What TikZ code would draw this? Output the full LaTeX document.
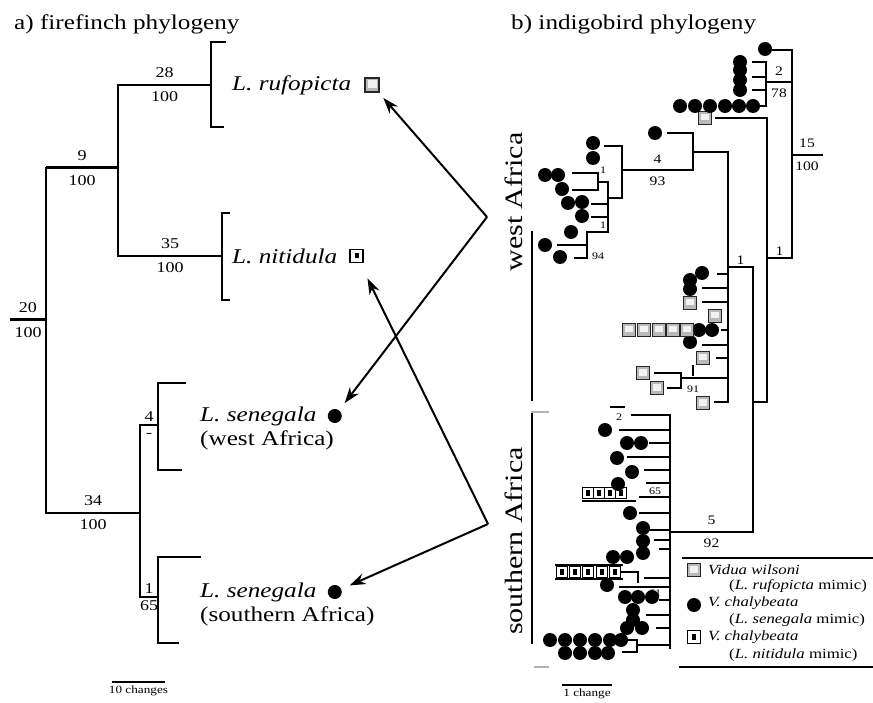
\documentclass[tikz,border=0pt]{standalone}
\usepackage{fontspec}
\setmainfont{Liberation Serif}[FakeStretch=1.2]
\usetikzlibrary{arrows.meta,positioning}

\begin{document}
\begin{tikzpicture}[x=1pt,y=-1pt,
  branch/.style={line width=2pt,line cap=rect},
  stem/.style={line width=3pt},
  rb/.style={line width=1.8pt,line cap=rect},
  title/.style={font=\fontsize{21}{24}\selectfont,anchor=west,inner sep=0pt},
  taxon/.style={font=\fontsize{21}{24}\selectfont,anchor=west,inner sep=0pt},
  region/.style={font=\fontsize{25}{28}\selectfont,inner sep=0pt,rotate=90},
  supp/.style={font=\fontsize{15}{15}\selectfont,inner sep=6pt},
  rsupp/.style={font=\fontsize{13}{13}\selectfont,inner sep=6pt},
  tiny/.style={font=\fontsize{10}{10}\selectfont,inner sep=1pt},
  keytext/.style={font=\fontsize{14}{15}\selectfont,anchor=west,inner sep=0pt},
  scaletext/.style={font=\fontsize{11}{12}\selectfont,inner sep=3pt},
  dot/.style={circle,fill=black,minimum size=14pt,inner sep=0pt},
  wsq/.style={rectangle,draw=black!85,fill=gray!55,line width=1.3pt,minimum size=13pt,inner sep=0pt,
    path picture={\fill[gray!10] ([shift={(2.5pt,-2.5pt)}]path picture bounding box.north west)
      rectangle ([shift={(-2.5pt,4pt)}]path picture bounding box.south east);}},
  nsq/.style={rectangle,draw=black,fill=white,line width=1.2pt,minimum size=11pt,inner sep=0pt,
    path picture={\fill[black] ([shift={(-2pt,-2.5pt)}]path picture bounding box.center)
      rectangle ([shift={(2pt,3pt)}]path picture bounding box.center);}},
  link/.style={-{Stealth[length=16pt,width=11pt]},line width=2pt}]

\useasboundingbox (0,0) rectangle (873,703);

% a) firefinch tree
\node[title] (titleA) at (14,24) {a) firefinch phylogeny};
\coordinate (rootStub) at (10,320);
\coordinate (root) at (46,320);
\coordinate (nUp) at (118,168);
\coordinate (nSen) at (140,513);
\coordinate (bRuf) at (211,85);
\coordinate (bNit) at (222,256);
\coordinate (bWest) at (158,425);
\coordinate (bSouth) at (158,597);

\draw[stem] (rootStub) -- node[supp,above]{20} node[supp,below]{100} (root);
\draw[branch] (root |- nUp) -- (root |- nSen);
\draw[stem] (root |- nUp) -- node[supp,above]{9} node[supp,below]{100} (nUp);
\draw[branch] (root |- nSen) -- node[supp,above]{34} node[supp,below]{100} (nSen);
\draw[branch] (nUp |- bRuf) -- (nUp |- bNit);
\draw[branch] (nUp |- bRuf) -- node[supp,above]{28} node[supp,below]{100} (bRuf);
\draw[branch] (nUp |- bNit) -- node[supp,above]{35} node[supp,below]{100} (bNit);
\draw[branch] (nSen |- bWest) -- (nSen |- bSouth);
\draw[branch] (nSen |- bWest) -- node[supp,above,inner sep=3pt]{4} node[supp,below,inner sep=7pt]{-} (bWest);
\draw[branch] (nSen |- bSouth) -- node[supp,above,inner sep=3pt]{1} node[supp,below,inner sep=3pt]{65} (bSouth);

% brackets
\draw[branch] ([shift={(14,-43)}]bRuf) -| ([shift={(0,42)}]bRuf) -- ++(12,0);
\draw[branch] ([shift={(7,-43)}]bNit) -| ([shift={(0,44)}]bNit) -- ++(7,0);
\draw[branch] ([shift={(27,-42)}]bWest) -| ([shift={(0,45)}]bWest) -- ++(23,0);
\draw[branch] ([shift={(42,-40)}]bSouth) -| ([shift={(0,46)}]bSouth) -- ++(20,0);

\node[taxon] (tRuf) at ([xshift=21pt]bRuf) {\textit{L. rufopicta}};
\node[wsq,minimum size=14pt,right=13pt of tRuf] (iRuf) {};
\node[taxon] (tNit) at ([xshift=10pt]bNit) {\textit{L. nitidula}};
\node[nsq,minimum size=13pt,right=12pt of tNit] (iNit) {};
\node[taxon] (tWest) at ([shift={(42,-9)}]bWest) {\textit{L. senegala}};
\node[taxon] (tWestReg) at ([shift={(42,15)}]bWest) {(west Africa)};
\node[dot,right=11pt of tWest] (iWest) {};
\node[taxon] (tSouth) at ([shift={(42,-5)}]bSouth) {\textit{L. senegala}};
\node[taxon] (tSouthReg) at ([shift={(42,19)}]bSouth) {(southern Africa)};
\node[dot,right=11pt of tSouth] (iSouth) {};

% host links
\coordinate (srcWest) at (487,217);
\coordinate (srcSouth) at (488,524);
\draw[link,shorten >=7pt] (srcWest) -- (iRuf);
\draw[link,shorten >=9pt] (srcWest) -- (iWest);
\draw[link,shorten >=17pt] (srcSouth) -- (iNit);
\draw[link,shorten >=9pt] (srcSouth) -- (iSouth);

\coordinate (sbA) at (112,682);
\coordinate (sbB) at (165,682);
\draw[line width=1.6pt] (sbA) -- node[scaletext,below]{10 changes} (sbB);

% b) indigobird tree
\node[title] (titleB) at (511,24) {b) indigobird phylogeny};
\coordinate (rRoot) at (792,155);
\coordinate (rStub) at (822,155);
\coordinate (tTop) at (773,50);
\coordinate (nTop) at (766,82);
\coordinate (tSq) at (716,118);
\coordinate (nB) at (767,258);
\coordinate (nA) at (753,402);
\coordinate (nW) at (728,267);
\coordinate (nW1) at (693,152);
\coordinate (tW1) at (668,133);
\coordinate (nW1a) at (622,170);
\coordinate (nS) at (670,532);

\draw[rb] (rRoot) -- node[rsupp,above]{15} node[rsupp,below]{100} (rStub);
\draw[rb] (tTop) -| (rRoot |- nB);
\draw[rb] (nTop) -- node[rsupp,above]{2} node[rsupp,below]{78} (rRoot |- nTop);
\draw[rb] (rRoot |- nB) -- node[rsupp,above,inner sep=2pt]{1} (nB);
\draw[rb] (tSq) -| (nB |- nA) -- (nA);
\draw[rb] (nA |- nW) -- (nA |- nS);
\draw[rb] (nW) -- node[rsupp,above,inner sep=2pt]{1} (nA |- nW);
\draw[rb] (nS) -- node[rsupp,above]{5} node[rsupp,below]{92} (nA |- nS);
\draw[rb] (nW |- nW1) -- (nW |- 0,402);
\draw[rb] (nW1) -- (nW |- nW1);
\draw[rb] (tW1) -| (nW1 |- nW1a) -- node[rsupp,above]{4} node[rsupp,below]{93} (nW1a);

% top clade
\node[dot] (dTop) at (765,49) {};
\node[wsq] (sqB) at (705,118) {};
\draw[rb] (nTop |- 0,62) -- (nTop |- 0,106);
\foreach \y in {62,77,90} \draw[rb] (753,\y) -- (nTop |- 0,\y);
\draw[rb] (759,106) -- (nTop |- 0,106);
\foreach \y in {62,70,80,90} \node[dot] (top\y) at (740,\y) {};
\foreach \x in {680,695,710,725,739,753} \node[dot] (row\x) at (\x,106) {};

% west Africa, clade 1
\node[dot] (dW1) at (655,133) {};
\draw[rb] (nW1a |- 0,146) -- (nW1a |- 0,198);
\draw[rb] (605,146) -- (nW1a |- 0,146);
\draw[line width=2.6pt] (608,198) -- (nW1a |- 0,198);
\draw[rb] (608,182) -- (608,232);
\draw[rb] (598,173) -- (598,190);
\draw[rb] (598,182) -- (608,182);
\draw[rb] (573,173) -- (598,173);
\draw[rb] (573,190) -- (598,190);
\draw[rb] (592,204) -- (608,204);
\draw[rb] (592,217) -- (608,217);
\draw[rb] (587,232) -- (608,232);
\draw[rb] (587,232) -- (587,258);
\draw[rb] (558,245) -- (587,245);
\draw[rb] (575,258) -- (587,258);
\node[tiny] (sW1a) at (603,170) {1};
\node[tiny] (sW1b) at (603,225) {1};
\node[tiny] (sW1c) at (598,256) {94};
\foreach \x/\y [count=\i] in {593/143,593/158,545/175,558/175,562/189,568/203,582/202,582/216,571/232,545/245,560/257}
  \node[dot] (w\i) at (\x,\y) {};

% west Africa, clade 2
\foreach \y/\x in {274/718,288/703,302/703,330/722,345/703,358/717,378/681,402/715}
  \draw[rb] (\x,\y) -- (nW |- 0,\y);
\draw[rb] (681,373) -- (681,388);
\draw[rb] (655,373) -- (681,373);
\draw[rb] (668,388) -- (681,388);
\draw[rb] (693,366) -- (693,375);
\node[tiny] (sW2) at (693,389) {91};
\foreach \x/\y [count=\i] in {702/273,690/280,690/289,712/330,699/330,690/342}
  \node[dot] (v\i) at (\x,\y) {};
\foreach \x/\y [count=\i] in {690/303,715/316,629/330,644/330,659/330,673/330,687/330,703/358,643/373,657/388,703/403}
  \node[wsq] (q\i) at (\x,\y) {};

% southern Africa clade
\draw[rb] (nS |- 0,415) -- (nS |- 0,648);
\foreach \y/\x in {415/632,430/620,443/650,457/628,470/645,483/647,497/640,513/640,530/650,540/655,549/660,578/645,587/620,600/660,615/647,628/657,645/637}
  \draw[rb] (\x,\y) -- (nS |- 0,\y);
\draw[rb] (611,407) -- (624,407);
\node[tiny] (sS1) at (619,417) {2};
\draw[rb] (583,501) -- (635,501);
\node[tiny] (sS2) at (655,491) {65};
\draw[rb] (556,565) -- (622,565);
\draw[rb] (556,579) -- (622,579);
\draw[rb] (622,572) -- (638,572) -- (638,582);
\node[tiny] (sS3) at (655,593) {61};
\draw[rb] (637,640) -- (637,652);
\draw[rb] (628,640) -- (637,640);
\draw[rb] (623,652) -- (637,652);
\foreach \x [count=\i] in {588,599,610,621} \node[nsq] (m\i) at (\x,493) {};
\foreach \x [count=\i] in {562,575,588,602,615} \node[nsq] (k\i) at (\x,572) {};
\foreach \x/\y [count=\i] in {605/430,627/443,641/443,617/458,632/472,618/484,630/513,643/528,643/541,643/553,613/557,627/557,607/585,625/597,638/597,652/597,633/610,633/620,627/628,642/628,550/640,565/640,580/640,595/640,610/640,621/640,565/653,580/653,595/653,608/653}
  \node[dot] (s\i) at (\x,\y) {};

% region brackets
\draw[rb] (532,232) -- (532,400);
\draw[rb] (532,412) -- (532,643);
\draw[rb,gray!60] (532,412) -- (548,412);
\draw[rb,gray!60] (535,667) -- (548,667);
\node[region] (westLbl) at (514,202) {west Africa};
\node[region] (southLbl) at (514,541) {southern Africa};

% key
\draw[rb] (683,558) -- (873,558);
\draw[rb] (680,667) -- (873,667);
\node[wsq] (kW) at (694,570) {};
\node[keytext] (kW1) at (708,570) {\textit{Vidua wilsoni}};
\node[keytext] (kW2) at (729,586) {(\textit{L. rufopicta} mimic)};
\node[dot] (kC) at (694,605) {};
\node[keytext] (kC1) at (708,603) {\textit{V. chalybeata}};
\node[keytext] (kC2) at (729,620) {(\textit{L. senegala} mimic)};
\node[nsq,minimum size=13pt] (kN) at (694,637) {};
\node[keytext] (kN1) at (708,637) {\textit{V. chalybeata}};
\node[keytext] (kN2) at (729,655) {(\textit{L. nitidula} mimic)};

\coordinate (sbC) at (562,685);
\coordinate (sbD) at (612,685);
\draw[line width=1.6pt] (sbC) -- node[scaletext,below]{1 change} (sbD);
\end{tikzpicture}
\end{document}
